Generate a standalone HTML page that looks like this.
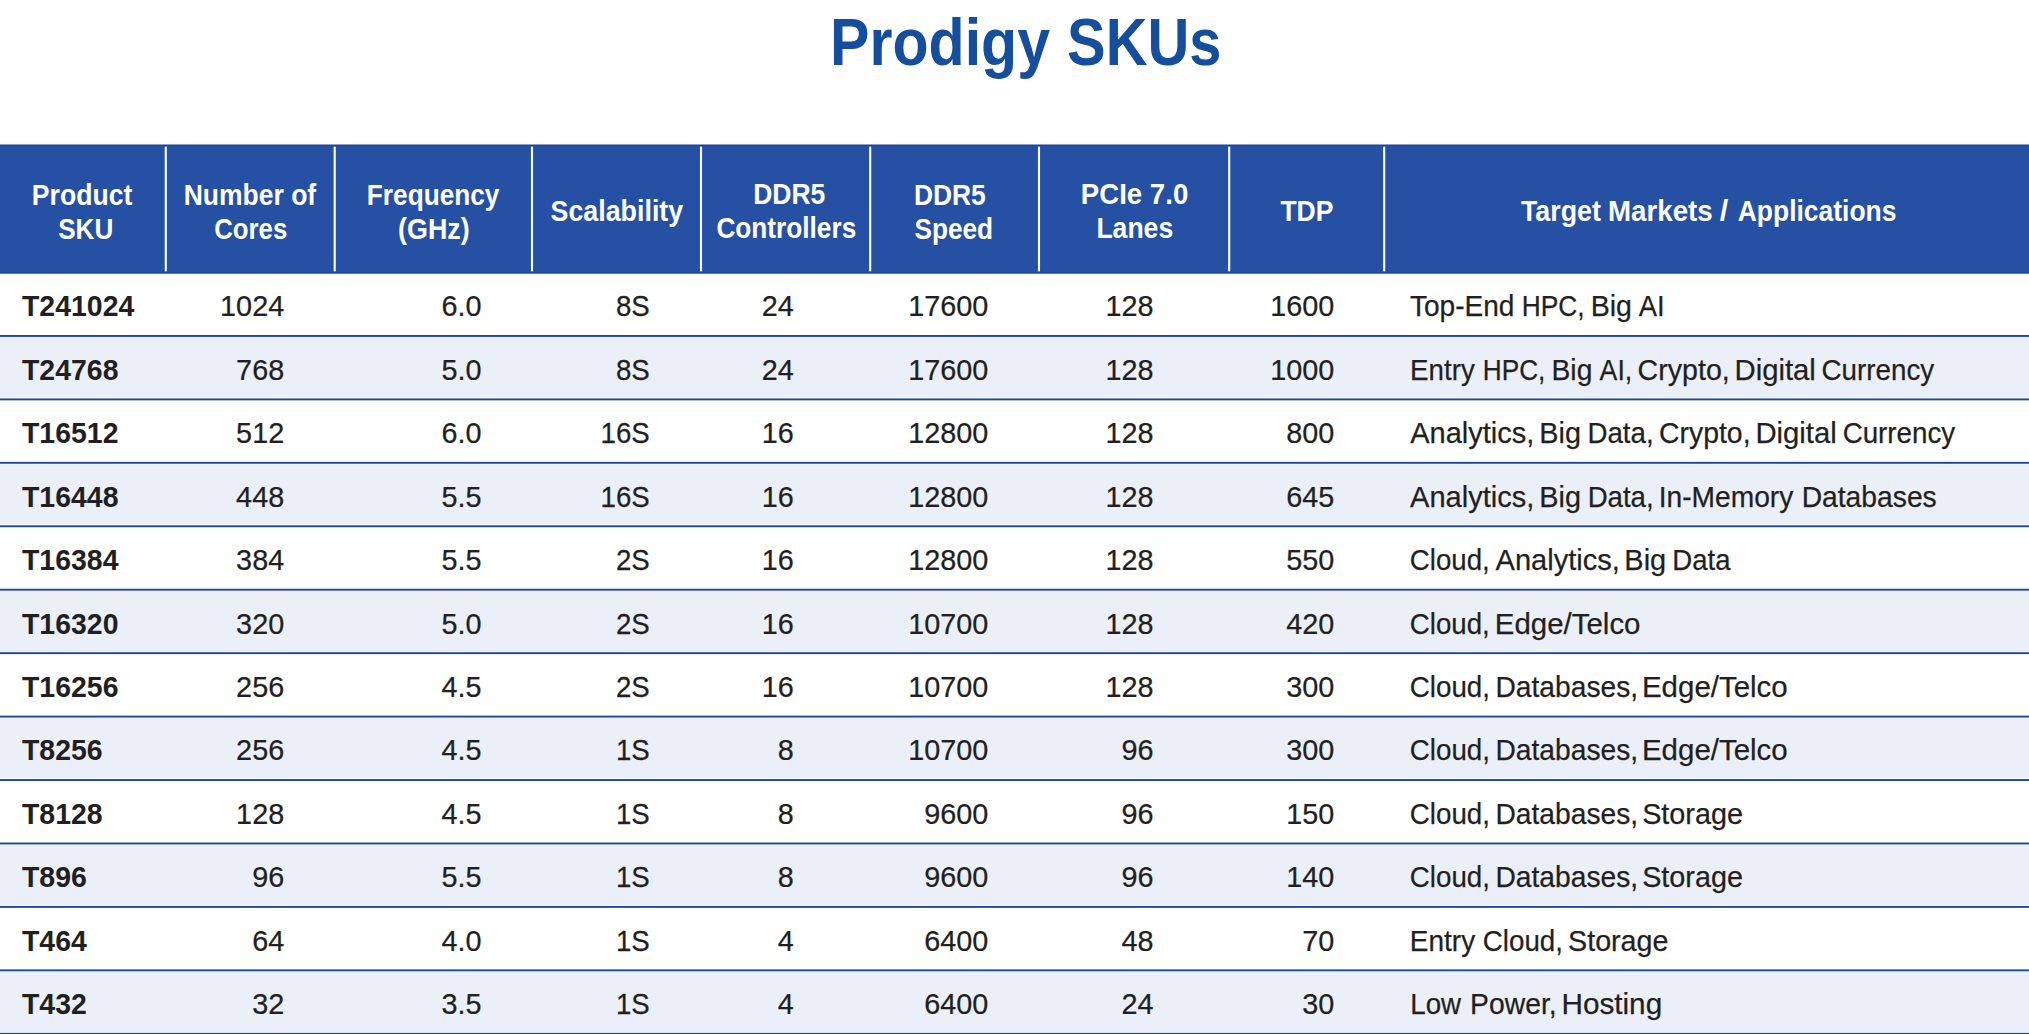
<!DOCTYPE html>
<html lang="en"><head><meta charset="utf-8"><title>Prodigy SKUs</title>
<style>
html,body{margin:0;padding:0;background:#fff;}
body{width:2029px;height:1034px;overflow:hidden;font-family:"Liberation Sans",sans-serif;}
svg{display:block;position:absolute;left:0;top:0;}
text{font-family:"Liberation Sans",sans-serif;white-space:pre;}
.title{font-weight:bold;fill:#144E9D;font-size:66.3px;}
.h{font-weight:bold;fill:#fff;font-size:29.3px;}
.b{fill:#231F20;font-size:29.9px;stroke:#231F20;stroke-width:0.25px;}
.sku{font-weight:bold;stroke:none;}
.m{word-spacing:-1.8px;}
</style></head><body>
<svg width="2029" height="1034" viewBox="0 0 2029 1034">
<rect x="0" y="337.35" width="2029" height="60.14" fill="#EBEFF8"/>
<rect x="0" y="464.23" width="2029" height="60.14" fill="#EBEFF8"/>
<rect x="0" y="591.11" width="2029" height="60.14" fill="#EBEFF8"/>
<rect x="0" y="717.99" width="2029" height="60.14" fill="#EBEFF8"/>
<rect x="0" y="844.87" width="2029" height="60.14" fill="#EBEFF8"/>
<rect x="0" y="971.75" width="2029" height="60.14" fill="#EBEFF8"/>
<rect x="0" y="335.00" width="2029" height="1.9" fill="#1C479D"/>
<rect x="0" y="398.44" width="2029" height="1.9" fill="#1C479D"/>
<rect x="0" y="461.88" width="2029" height="1.9" fill="#1C479D"/>
<rect x="0" y="525.32" width="2029" height="1.9" fill="#1C479D"/>
<rect x="0" y="588.76" width="2029" height="1.9" fill="#1C479D"/>
<rect x="0" y="652.20" width="2029" height="1.9" fill="#1C479D"/>
<rect x="0" y="715.64" width="2029" height="1.9" fill="#1C479D"/>
<rect x="0" y="779.08" width="2029" height="1.9" fill="#1C479D"/>
<rect x="0" y="842.52" width="2029" height="1.9" fill="#1C479D"/>
<rect x="0" y="905.96" width="2029" height="1.9" fill="#1C479D"/>
<rect x="0" y="969.40" width="2029" height="1.9" fill="#1C479D"/>
<rect x="0" y="1032.84" width="2029" height="1.9" fill="#1C479D"/>
<rect x="0" y="144.7" width="2029" height="128.80" fill="#2650A3"/>
<rect x="0" y="144.7" width="2029" height="1.3" fill="#1C479D"/>
<rect x="0" y="272.10" width="2029" height="1.4" fill="#1C479D"/>
<rect x="164.75" y="146.5" width="2.1" height="125.1" rx="1" fill="#fff"/>
<rect x="333.65" y="146.5" width="2.1" height="125.1" rx="1" fill="#fff"/>
<rect x="530.95" y="146.5" width="2.1" height="125.1" rx="1" fill="#fff"/>
<rect x="699.95" y="146.5" width="2.1" height="125.1" rx="1" fill="#fff"/>
<rect x="869.15" y="146.5" width="2.1" height="125.1" rx="1" fill="#fff"/>
<rect x="1037.95" y="146.5" width="2.1" height="125.1" rx="1" fill="#fff"/>
<rect x="1228.15" y="146.5" width="2.1" height="125.1" rx="1" fill="#fff"/>
<rect x="1383.15" y="146.5" width="2.1" height="125.1" rx="1" fill="#fff"/>
<text class="title" y="64.70"><tspan x="830.05" textLength="220.05" lengthAdjust="spacingAndGlyphs">Prodigy</tspan> <tspan x="1067.09" textLength="154.43" lengthAdjust="spacingAndGlyphs">SKUs</tspan></text>
<text class="h" x="31.80" y="205.00" textLength="100.50" lengthAdjust="spacingAndGlyphs">Product</text>
<text class="h" x="58.19" y="239.00" textLength="55.18" lengthAdjust="spacingAndGlyphs">SKU</text>
<text class="h" x="183.67" y="205.00" textLength="132.49" lengthAdjust="spacingAndGlyphs">Number of</text>
<text class="h" x="214.15" y="239.00" textLength="73.08" lengthAdjust="spacingAndGlyphs">Cores</text>
<text class="h" x="366.82" y="205.00" textLength="132.66" lengthAdjust="spacingAndGlyphs">Frequency</text>
<text class="h" x="398.09" y="239.00" textLength="71.62" lengthAdjust="spacingAndGlyphs">(GHz)</text>
<text class="h" x="550.57" y="221.30" textLength="132.61" lengthAdjust="spacingAndGlyphs">Scalability</text>
<text class="h" x="753.13" y="204.40" textLength="72.17" lengthAdjust="spacingAndGlyphs">DDR5</text>
<text class="h" x="716.42" y="238.40" textLength="139.81" lengthAdjust="spacingAndGlyphs">Controllers</text>
<text class="h" x="913.89" y="205.00" textLength="71.85" lengthAdjust="spacingAndGlyphs">DDR5</text>
<text class="h" x="914.41" y="239.00" textLength="78.66" lengthAdjust="spacingAndGlyphs">Speed</text>
<text class="h" x="1080.79" y="204.40" textLength="107.48" lengthAdjust="spacingAndGlyphs">PCIe 7.0</text>
<text class="h" x="1096.38" y="238.40" textLength="76.82" lengthAdjust="spacingAndGlyphs">Lanes</text>
<text class="h" x="1280.41" y="221.30" textLength="53.08" lengthAdjust="spacingAndGlyphs">TDP</text>
<text class="h" y="221.30"><tspan x="1520.93" textLength="79.91" lengthAdjust="spacingAndGlyphs">Target</tspan> <tspan x="1608.02" textLength="104.71" lengthAdjust="spacingAndGlyphs">Markets</tspan> <tspan x="1719.85" textLength="8.49" lengthAdjust="spacingAndGlyphs">/</tspan> <tspan x="1737.76" textLength="158.63" lengthAdjust="spacingAndGlyphs">Applications</tspan></text>
<text class="b sku" transform="translate(22,316.00) scale(0.9514,1)">T241024</text>
<text class="b" text-anchor="end" transform="translate(284.2,316.00) scale(0.9642,1)">1024</text>
<text class="b" text-anchor="end" transform="translate(481.5,316.00) scale(0.9642,1)">6.0</text>
<text class="b" text-anchor="end" transform="translate(649.8,316.00) scale(0.9256,1)">8S</text>
<text class="b" text-anchor="end" transform="translate(793.8,316.00) scale(0.9642,1)">24</text>
<text class="b" text-anchor="end" transform="translate(988.3,316.00) scale(0.9642,1)">17600</text>
<text class="b" text-anchor="end" transform="translate(1153.5,316.00) scale(0.9642,1)">128</text>
<text class="b" text-anchor="end" transform="translate(1334.3,316.00) scale(0.9642,1)">1600</text>
<text class="b" y="316.00"><tspan x="1409.91" textLength="104.54" lengthAdjust="spacingAndGlyphs">Top-End</tspan> <tspan x="1521.66" textLength="62.87" lengthAdjust="spacingAndGlyphs">HPC,</tspan> <tspan x="1590.63" textLength="41.28" lengthAdjust="spacingAndGlyphs">Big</tspan> <tspan x="1638.75" textLength="25.94" lengthAdjust="spacingAndGlyphs">AI</tspan></text>
<text class="b sku" transform="translate(22,380.00) scale(0.9514,1)">T24768</text>
<text class="b" text-anchor="end" transform="translate(284.2,380.00) scale(0.9642,1)">768</text>
<text class="b" text-anchor="end" transform="translate(481.5,380.00) scale(0.9642,1)">5.0</text>
<text class="b" text-anchor="end" transform="translate(649.8,380.00) scale(0.9256,1)">8S</text>
<text class="b" text-anchor="end" transform="translate(793.8,380.00) scale(0.9642,1)">24</text>
<text class="b" text-anchor="end" transform="translate(988.3,380.00) scale(0.9642,1)">17600</text>
<text class="b" text-anchor="end" transform="translate(1153.5,380.00) scale(0.9642,1)">128</text>
<text class="b" text-anchor="end" transform="translate(1334.3,380.00) scale(0.9642,1)">1000</text>
<text class="b" y="380.00"><tspan x="1410.11" textLength="64.65" lengthAdjust="spacingAndGlyphs">Entry</tspan> <tspan x="1482.80" textLength="62.56" lengthAdjust="spacingAndGlyphs">HPC,</tspan> <tspan x="1551.56" textLength="40.78" lengthAdjust="spacingAndGlyphs">Big</tspan> <tspan x="1599.59" textLength="32.65" lengthAdjust="spacingAndGlyphs">AI,</tspan> <tspan x="1637.59" textLength="92.15" lengthAdjust="spacingAndGlyphs">Crypto,</tspan> <tspan x="1734.55" textLength="81.33" lengthAdjust="spacingAndGlyphs">Digital</tspan> <tspan x="1821.53" textLength="112.66" lengthAdjust="spacingAndGlyphs">Currency</tspan></text>
<text class="b sku" transform="translate(22,443.00) scale(0.9514,1)">T16512</text>
<text class="b" text-anchor="end" transform="translate(284.2,443.00) scale(0.9642,1)">512</text>
<text class="b" text-anchor="end" transform="translate(481.5,443.00) scale(0.9642,1)">6.0</text>
<text class="b" text-anchor="end" transform="translate(649.8,443.00) scale(0.9256,1)">16S</text>
<text class="b" text-anchor="end" transform="translate(793.8,443.00) scale(0.9642,1)">16</text>
<text class="b" text-anchor="end" transform="translate(988.3,443.00) scale(0.9642,1)">12800</text>
<text class="b" text-anchor="end" transform="translate(1153.5,443.00) scale(0.9642,1)">128</text>
<text class="b" text-anchor="end" transform="translate(1334.3,443.00) scale(0.9642,1)">800</text>
<text class="b" y="443.00"><tspan x="1410.19" textLength="124.24" lengthAdjust="spacingAndGlyphs">Analytics,</tspan> <tspan x="1539.37" textLength="41.67" lengthAdjust="spacingAndGlyphs">Big</tspan> <tspan x="1587.47" textLength="66.16" lengthAdjust="spacingAndGlyphs">Data,</tspan> <tspan x="1659.01" textLength="91.52" lengthAdjust="spacingAndGlyphs">Crypto,</tspan> <tspan x="1755.38" textLength="81.40" lengthAdjust="spacingAndGlyphs">Digital</tspan> <tspan x="1842.64" textLength="112.64" lengthAdjust="spacingAndGlyphs">Currency</tspan></text>
<text class="b sku" transform="translate(22,507.00) scale(0.9514,1)">T16448</text>
<text class="b" text-anchor="end" transform="translate(284.2,507.00) scale(0.9642,1)">448</text>
<text class="b" text-anchor="end" transform="translate(481.5,507.00) scale(0.9642,1)">5.5</text>
<text class="b" text-anchor="end" transform="translate(649.8,507.00) scale(0.9256,1)">16S</text>
<text class="b" text-anchor="end" transform="translate(793.8,507.00) scale(0.9642,1)">16</text>
<text class="b" text-anchor="end" transform="translate(988.3,507.00) scale(0.9642,1)">12800</text>
<text class="b" text-anchor="end" transform="translate(1153.5,507.00) scale(0.9642,1)">128</text>
<text class="b" text-anchor="end" transform="translate(1334.3,507.00) scale(0.9642,1)">645</text>
<text class="b" y="507.00"><tspan x="1410.09" textLength="124.36" lengthAdjust="spacingAndGlyphs">Analytics,</tspan> <tspan x="1539.37" textLength="41.68" lengthAdjust="spacingAndGlyphs">Big</tspan> <tspan x="1587.65" textLength="66.01" lengthAdjust="spacingAndGlyphs">Data,</tspan> <tspan x="1658.64" textLength="134.73" lengthAdjust="spacingAndGlyphs">In-Memory</tspan> <tspan x="1801.65" textLength="135.10" lengthAdjust="spacingAndGlyphs">Databases</tspan></text>
<text class="b sku" transform="translate(22,570.00) scale(0.9514,1)">T16384</text>
<text class="b" text-anchor="end" transform="translate(284.2,570.00) scale(0.9642,1)">384</text>
<text class="b" text-anchor="end" transform="translate(481.5,570.00) scale(0.9642,1)">5.5</text>
<text class="b" text-anchor="end" transform="translate(649.8,570.00) scale(0.9256,1)">2S</text>
<text class="b" text-anchor="end" transform="translate(793.8,570.00) scale(0.9642,1)">16</text>
<text class="b" text-anchor="end" transform="translate(988.3,570.00) scale(0.9642,1)">12800</text>
<text class="b" text-anchor="end" transform="translate(1153.5,570.00) scale(0.9642,1)">128</text>
<text class="b" text-anchor="end" transform="translate(1334.3,570.00) scale(0.9642,1)">550</text>
<text class="b" y="570.00"><tspan x="1409.83" textLength="79.90" lengthAdjust="spacingAndGlyphs">Cloud,</tspan> <tspan x="1495.59" textLength="124.26" lengthAdjust="spacingAndGlyphs">Analytics,</tspan> <tspan x="1624.36" textLength="41.85" lengthAdjust="spacingAndGlyphs">Big</tspan> <tspan x="1672.32" textLength="58.21" lengthAdjust="spacingAndGlyphs">Data</tspan></text>
<text class="b sku" transform="translate(22,634.00) scale(0.9514,1)">T16320</text>
<text class="b" text-anchor="end" transform="translate(284.2,634.00) scale(0.9642,1)">320</text>
<text class="b" text-anchor="end" transform="translate(481.5,634.00) scale(0.9642,1)">5.0</text>
<text class="b" text-anchor="end" transform="translate(649.8,634.00) scale(0.9256,1)">2S</text>
<text class="b" text-anchor="end" transform="translate(793.8,634.00) scale(0.9642,1)">16</text>
<text class="b" text-anchor="end" transform="translate(988.3,634.00) scale(0.9642,1)">10700</text>
<text class="b" text-anchor="end" transform="translate(1153.5,634.00) scale(0.9642,1)">128</text>
<text class="b" text-anchor="end" transform="translate(1334.3,634.00) scale(0.9642,1)">420</text>
<text class="b" y="634.00"><tspan x="1409.83" textLength="79.89" lengthAdjust="spacingAndGlyphs">Cloud,</tspan> <tspan x="1494.85" textLength="145.63" lengthAdjust="spacingAndGlyphs">Edge/Telco</tspan></text>
<text class="b sku" transform="translate(22,697.00) scale(0.9514,1)">T16256</text>
<text class="b" text-anchor="end" transform="translate(284.2,697.00) scale(0.9642,1)">256</text>
<text class="b" text-anchor="end" transform="translate(481.5,697.00) scale(0.9642,1)">4.5</text>
<text class="b" text-anchor="end" transform="translate(649.8,697.00) scale(0.9256,1)">2S</text>
<text class="b" text-anchor="end" transform="translate(793.8,697.00) scale(0.9642,1)">16</text>
<text class="b" text-anchor="end" transform="translate(988.3,697.00) scale(0.9642,1)">10700</text>
<text class="b" text-anchor="end" transform="translate(1153.5,697.00) scale(0.9642,1)">128</text>
<text class="b" text-anchor="end" transform="translate(1334.3,697.00) scale(0.9642,1)">300</text>
<text class="b" y="697.00"><tspan x="1409.82" textLength="80.13" lengthAdjust="spacingAndGlyphs">Cloud,</tspan> <tspan x="1495.52" textLength="142.56" lengthAdjust="spacingAndGlyphs">Databases,</tspan> <tspan x="1641.98" textLength="145.77" lengthAdjust="spacingAndGlyphs">Edge/Telco</tspan></text>
<text class="b sku" transform="translate(22,760.00) scale(0.9514,1)">T8256</text>
<text class="b" text-anchor="end" transform="translate(284.2,760.00) scale(0.9642,1)">256</text>
<text class="b" text-anchor="end" transform="translate(481.5,760.00) scale(0.9642,1)">4.5</text>
<text class="b" text-anchor="end" transform="translate(649.8,760.00) scale(0.9256,1)">1S</text>
<text class="b" text-anchor="end" transform="translate(793.8,760.00) scale(0.9642,1)">8</text>
<text class="b" text-anchor="end" transform="translate(988.3,760.00) scale(0.9642,1)">10700</text>
<text class="b" text-anchor="end" transform="translate(1153.5,760.00) scale(0.9642,1)">96</text>
<text class="b" text-anchor="end" transform="translate(1334.3,760.00) scale(0.9642,1)">300</text>
<text class="b" y="760.00"><tspan x="1409.82" textLength="80.13" lengthAdjust="spacingAndGlyphs">Cloud,</tspan> <tspan x="1495.52" textLength="142.56" lengthAdjust="spacingAndGlyphs">Databases,</tspan> <tspan x="1641.98" textLength="145.77" lengthAdjust="spacingAndGlyphs">Edge/Telco</tspan></text>
<text class="b sku" transform="translate(22,824.00) scale(0.9514,1)">T8128</text>
<text class="b" text-anchor="end" transform="translate(284.2,824.00) scale(0.9642,1)">128</text>
<text class="b" text-anchor="end" transform="translate(481.5,824.00) scale(0.9642,1)">4.5</text>
<text class="b" text-anchor="end" transform="translate(649.8,824.00) scale(0.9256,1)">1S</text>
<text class="b" text-anchor="end" transform="translate(793.8,824.00) scale(0.9642,1)">8</text>
<text class="b" text-anchor="end" transform="translate(988.3,824.00) scale(0.9642,1)">9600</text>
<text class="b" text-anchor="end" transform="translate(1153.5,824.00) scale(0.9642,1)">96</text>
<text class="b" text-anchor="end" transform="translate(1334.3,824.00) scale(0.9642,1)">150</text>
<text class="b" y="824.00"><tspan x="1409.82" textLength="80.13" lengthAdjust="spacingAndGlyphs">Cloud,</tspan> <tspan x="1495.52" textLength="142.56" lengthAdjust="spacingAndGlyphs">Databases,</tspan> <tspan x="1642.18" textLength="100.78" lengthAdjust="spacingAndGlyphs">Storage</tspan></text>
<text class="b sku" transform="translate(22,887.00) scale(0.9514,1)">T896</text>
<text class="b" text-anchor="end" transform="translate(284.2,887.00) scale(0.9642,1)">96</text>
<text class="b" text-anchor="end" transform="translate(481.5,887.00) scale(0.9642,1)">5.5</text>
<text class="b" text-anchor="end" transform="translate(649.8,887.00) scale(0.9256,1)">1S</text>
<text class="b" text-anchor="end" transform="translate(793.8,887.00) scale(0.9642,1)">8</text>
<text class="b" text-anchor="end" transform="translate(988.3,887.00) scale(0.9642,1)">9600</text>
<text class="b" text-anchor="end" transform="translate(1153.5,887.00) scale(0.9642,1)">96</text>
<text class="b" text-anchor="end" transform="translate(1334.3,887.00) scale(0.9642,1)">140</text>
<text class="b" y="887.00"><tspan x="1409.82" textLength="80.13" lengthAdjust="spacingAndGlyphs">Cloud,</tspan> <tspan x="1495.52" textLength="142.56" lengthAdjust="spacingAndGlyphs">Databases,</tspan> <tspan x="1642.18" textLength="100.78" lengthAdjust="spacingAndGlyphs">Storage</tspan></text>
<text class="b sku" transform="translate(22,951.00) scale(0.9514,1)">T464</text>
<text class="b" text-anchor="end" transform="translate(284.2,951.00) scale(0.9642,1)">64</text>
<text class="b" text-anchor="end" transform="translate(481.5,951.00) scale(0.9642,1)">4.0</text>
<text class="b" text-anchor="end" transform="translate(649.8,951.00) scale(0.9256,1)">1S</text>
<text class="b" text-anchor="end" transform="translate(793.8,951.00) scale(0.9642,1)">4</text>
<text class="b" text-anchor="end" transform="translate(988.3,951.00) scale(0.9642,1)">6400</text>
<text class="b" text-anchor="end" transform="translate(1153.5,951.00) scale(0.9642,1)">48</text>
<text class="b" text-anchor="end" transform="translate(1334.3,951.00) scale(0.9642,1)">70</text>
<text class="b" y="951.00"><tspan x="1409.84" textLength="65.29" lengthAdjust="spacingAndGlyphs">Entry</tspan> <tspan x="1482.82" textLength="80.13" lengthAdjust="spacingAndGlyphs">Cloud,</tspan> <tspan x="1568.07" textLength="100.38" lengthAdjust="spacingAndGlyphs">Storage</tspan></text>
<text class="b sku" transform="translate(22,1014.00) scale(0.9514,1)">T432</text>
<text class="b" text-anchor="end" transform="translate(284.2,1014.00) scale(0.9642,1)">32</text>
<text class="b" text-anchor="end" transform="translate(481.5,1014.00) scale(0.9642,1)">3.5</text>
<text class="b" text-anchor="end" transform="translate(649.8,1014.00) scale(0.9256,1)">1S</text>
<text class="b" text-anchor="end" transform="translate(793.8,1014.00) scale(0.9642,1)">4</text>
<text class="b" text-anchor="end" transform="translate(988.3,1014.00) scale(0.9642,1)">6400</text>
<text class="b" text-anchor="end" transform="translate(1153.5,1014.00) scale(0.9642,1)">24</text>
<text class="b" text-anchor="end" transform="translate(1334.3,1014.00) scale(0.9642,1)">30</text>
<text class="b" y="1014.00"><tspan x="1410.27" textLength="50.90" lengthAdjust="spacingAndGlyphs">Low</tspan> <tspan x="1470.12" textLength="86.50" lengthAdjust="spacingAndGlyphs">Power,</tspan> <tspan x="1561.44" textLength="100.72" lengthAdjust="spacingAndGlyphs">Hosting</tspan></text>
</svg>
</body></html>
